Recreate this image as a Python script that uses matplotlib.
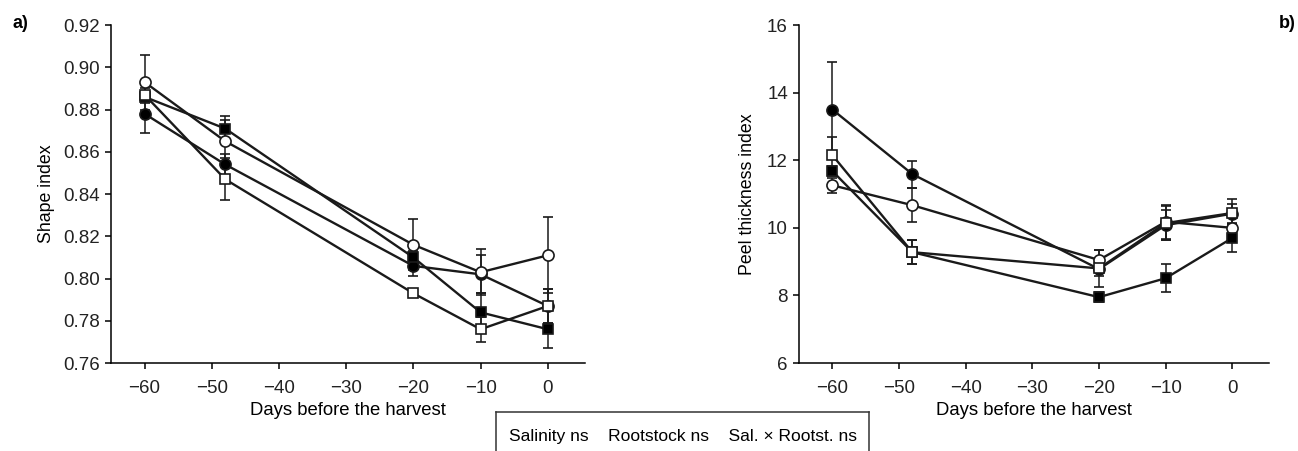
import matplotlib
matplotlib.use("Agg")
import matplotlib.pyplot as plt
from matplotlib.lines import Line2D

plt.rcParams['font.family'] = ['Liberation Sans Narrow', 'Liberation Sans', 'DejaVu Sans']

# days before the harvest
days = [-60, -48, -20, -10, 0]

# panel a) shape index
shape_fc = [0.878, 0.854, 0.806, 0.802, 0.787]   # filled circle
shape_oc = [0.893, 0.865, 0.816, 0.803, 0.811]   # open circle
shape_fs = [0.886, 0.871, 0.810, 0.784, 0.776]   # filled square
shape_os = [0.887, 0.847, 0.793, 0.776, 0.787]   # open square
shape_fc_err = [0.009, 0.005, 0.005, 0.009, 0.008]
shape_oc_err = [0.013, 0.010, 0.012, 0.011, 0.018]
shape_fs_err = [0.003, 0.006, 0.003, 0.009, 0.009]
shape_os_err = [0.003, 0.010, 0.001, 0.006, 0.008]

# panel b) peel thickness index
peel_fc = [13.50, 11.59, 8.78, 10.08, 10.42]
peel_oc = [11.26, 10.67, 9.05, 10.18, 10.00]
peel_fs = [11.68, 9.28, 7.95, 8.51, 9.70]
peel_os = [12.15, 9.28, 8.80, 10.14, 10.44]
peel_fc_err = [1.40, 0.40, 0.20, 0.45, 0.30]
peel_oc_err = [0.22, 0.50, 0.30, 0.50, 0.15]
peel_fs_err = [0.15, 0.35, 0.15, 0.42, 0.40]
peel_os_err = [0.55, 0.35, 0.55, 0.50, 0.40]

fig = plt.figure(figsize=(12.98, 4.51), dpi=100)
ax1 = fig.add_axes([0.0855, 0.195, 0.365, 0.7494])
ax2 = fig.add_axes([0.6156, 0.195, 0.362, 0.7494])

styles = [('o', 'k'), ('o', 'w'), ('s', 'k'), ('s', 'w')]


def draw(ax, series, errs):
    for (m, fc), y, e in zip(styles, series, errs):
        ax.errorbar(days, y, yerr=e, color='#1a1a1a', marker=m, mfc=fc, mec='#1a1a1a',
                    ms=8 if m == 'o' else 7.5, mew=1.2, lw=1.7, elinewidth=1.1,
                    capsize=3.5, capthick=1.1)
    for s in ['top', 'right']:
        ax.spines[s].set_visible(False)
    for s in ['left', 'bottom']:
        ax.spines[s].set_linewidth(1.1)
    ax.set_xlim(-65, 5.5)
    ax.set_xticks([-60, -50, -40, -30, -20, -10, 0])
    ax.tick_params(direction='out', length=4, width=1.1, labelsize=13.5, pad=4,
                   labelcolor='#222222')
    ax.tick_params(axis='x', pad=8)
    ax.set_xlabel('Days before the harvest', fontsize=13.3, labelpad=4)


draw(ax1, [shape_fc, shape_oc, shape_fs, shape_os],
     [shape_fc_err, shape_oc_err, shape_fs_err, shape_os_err])
ax1.set_ylim(0.76, 0.92)
ax1.set_yticks([0.76, 0.78, 0.80, 0.82, 0.84, 0.86, 0.88, 0.90, 0.92])
ax1.set_yticklabels([f'{v:.2f}' for v in ax1.get_yticks()])
ax1.set_ylabel('Shape index', fontsize=12.8, labelpad=6)

draw(ax2, [peel_fc, peel_oc, peel_fs, peel_os],
     [peel_fc_err, peel_oc_err, peel_fs_err, peel_os_err])
ax2.set_ylim(6, 16)
ax2.set_yticks([6, 8, 10, 12, 14, 16])
ax2.set_ylabel('Peel thickness index', fontsize=12.8, labelpad=8)

fig.text(0.010, 0.948, 'a)', fontsize=13, fontweight='bold', va='center')
fig.text(0.985, 0.948, 'b)', fontsize=13, fontweight='bold', va='center')

# statistics box (open at the bottom)
x0, x1, yt = 496 / 1298, 869 / 1298, 1 - 412 / 451
for xs, ys in [([x0, x0], [0, yt]), ([x0, x1], [yt, yt]), ([x1, x1], [yt, 0])]:
    fig.add_artist(Line2D(xs, ys, color='#333333', lw=1.1, transform=fig.transFigure))
fig.text((x0 + x1) / 2, 1 - 436 / 451,
         'Salinity ns    Rootstock ns    Sal. \u00d7 Rootst. ns',
         fontsize=12.5, ha='center', va='center')

fig.savefig('out.png', dpi=100)
